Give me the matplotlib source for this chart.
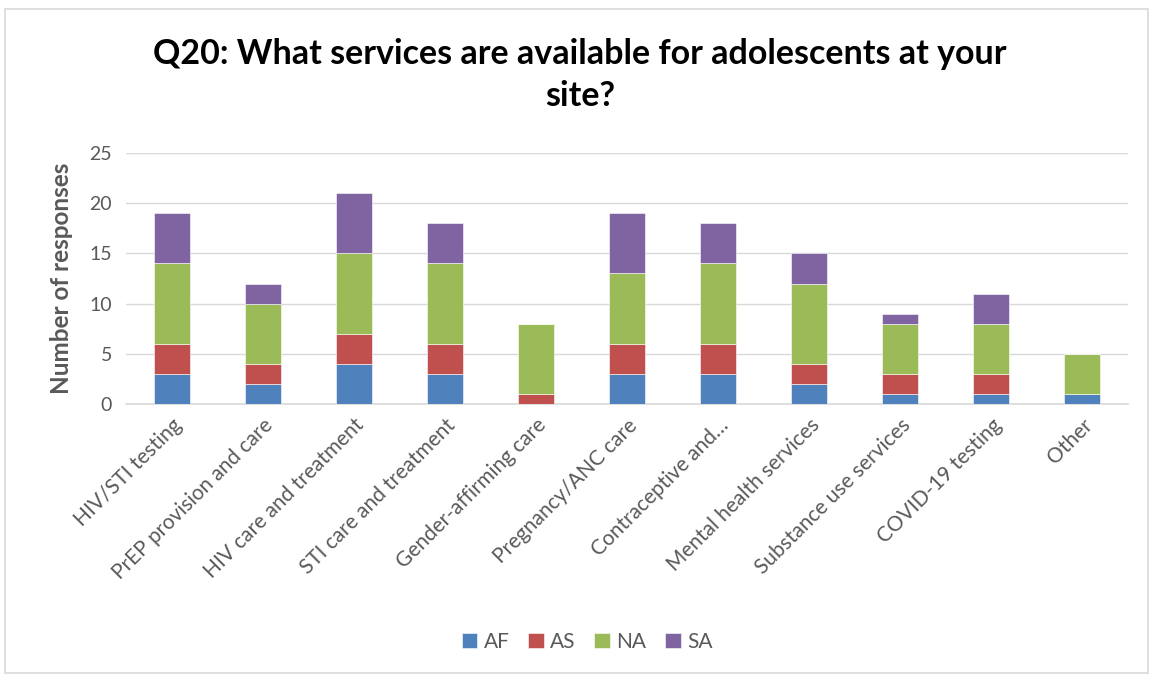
import matplotlib
matplotlib.use("Agg")
import matplotlib.pyplot as plt
from matplotlib.patches import Rectangle
import numpy as np

categories = [
    "HIV/STI testing",
    "PrEP provision and care",
    "HIV care and treatment",
    "STI care and treatment",
    "Gender-affirming care",
    "Pregnancy/ANC care",
    "Contraceptive and\u2026",
    "Mental health services",
    "Substance use services",
    "COVID-19 testing",
    "Other",
]
af = [3, 2, 4, 3, 0, 3, 3, 2, 1, 1, 1]
as_ = [3, 2, 3, 3, 1, 3, 3, 2, 2, 2, 0]
na = [8, 6, 8, 8, 7, 7, 8, 8, 5, 5, 4]
sa = [5, 2, 6, 4, 0, 6, 4, 3, 1, 3, 0]
series_names = ["AF", "AS", "NA", "SA"]
colors = ["#4F81BD", "#C0504D", "#9BBB59", "#8064A2"]

plt.rcParams["font.family"] = ["Lato", "DejaVu Sans"]
W, H = 1153, 674
fig = plt.figure(figsize=(W / 100, H / 100), dpi=100)
fig.patches.append(Rectangle((5 / W, 1 - 673 / H), 1143 / W, 664 / H,
                             transform=fig.transFigure, fill=False,
                             edgecolor="#D9D9D9", linewidth=1.2))

ax = fig.add_axes([126 / W, 1 - 404 / H, (1128 - 126) / W, (404 - 153) / H])
x = np.arange(len(categories))
bottom = np.zeros(len(categories))
for name, vals, c in zip(series_names, [af, as_, na, sa], colors):
    ax.bar(x, vals, width=0.395, bottom=bottom, color=c, label=name,
           edgecolor="white", linewidth=0.4, zorder=3)
    bottom += np.array(vals)

ax.set_xlim(-0.5, len(categories) - 0.5)
ax.set_ylim(0, 25)
ax.set_yticks(range(0, 26, 5))
ax.grid(axis="y", color="#D9D9D9", linewidth=1, zorder=0)
for s in ["top", "right", "left"]:
    ax.spines[s].set_visible(False)
ax.spines["bottom"].set_color("#D9D9D9")
ax.spines["bottom"].set_linewidth(1.2)
ax.tick_params(axis="y", length=0, labelsize=14, colors="#595959", pad=10)
ax.tick_params(axis="x", length=0, labelsize=15, colors="#595959", pad=8)
ax.set_xticks(x)
ax.set_xticklabels(categories, rotation=45, ha="right", rotation_mode="anchor")
ax.set_ylabel("Number of responses", fontsize=17.5, fontweight="bold",
              color="#595959", labelpad=12)

fig.text(580 / W, 1 - 75 / H,
         "Q20: What services are available for adolescents at your\nsite?",
         ha="center", va="center", fontsize=24.5, fontweight="bold",
         color="black", linespacing=1.35)

handles, labels = ax.get_legend_handles_labels()
fig.legend(handles, labels, loc="center", bbox_to_anchor=(587 / W, 1 - 642 / H),
           ncol=4, frameon=False, fontsize=15, handlelength=0.75,
           handleheight=0.75, handletextpad=0.3, columnspacing=0.9,
           labelcolor="#595959")

fig.savefig("out.png", dpi=100)
